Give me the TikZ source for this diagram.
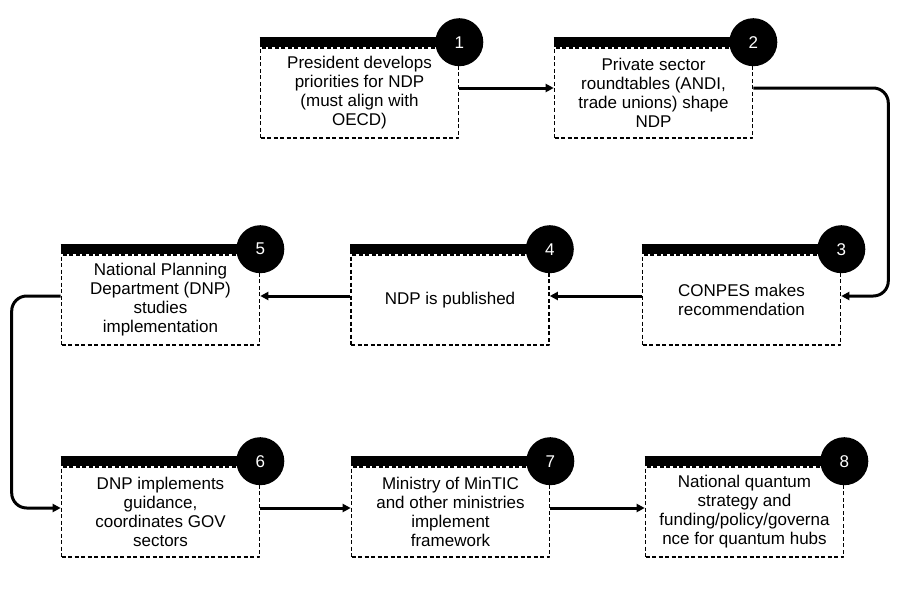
\documentclass[tikz,border=0pt]{standalone}
\usepackage{fontspec}
\setmainfont{Liberation Sans}
\usetikzlibrary{arrows.meta}
\begin{document}
\begin{tikzpicture}[x=1pt,y=-1pt,line join=round,>={Triangle[length=8pt,width=8pt]}]
	\tikzset{every node/.style={font=\fontsize{17}{19}\selectfont},
		stepbox/.style={draw,dashed,line width=1.6pt,dash pattern=on 4pt off 2.5pt,minimum width=198pt,minimum height=90pt,inner sep=0pt,align=center},
		badge/.style={circle,fill=black,text=white,minimum size=48pt,inner sep=0pt},
		arr/.style={->,line width=3pt}}
	\useasboundingbox (0,0) rectangle (906,589);
	\foreach \n/\x/\y/\txt in {1/359.5/93/{President develops\\priorities for NDP\\(must align with\\OECD)},
		2/653.5/93/{Private sector\\roundtables (ANDI,\\trade unions) shape\\NDP},
		3/741.5/300/{CONPES makes\\recommendation},
		4/450/300/{NDP is published},
		5/160.5/300/{National Planning\\Department (DNP)\\studies\\implementation},
		6/160.5/512/{DNP implements\\guidance,\\coordinates GOV\\sectors},
		7/450.5/512/{Ministry of MinTIC\\and other ministries\\implement\\framework},
		8/744.5/512/{National quantum\\strategy and\\funding/policy/governa\\nce for quantum hubs}}
	{
		\node[stepbox] (b\n) at (\x,\y) {\txt};
		\draw[line width=10pt] ([yshift=5pt]b\n.north west)--([yshift=5pt]b\n.north east);
		\node[badge] (c\n) at ([yshift=5pt]b\n.north east) {\n};
	}
	\draw[arr] ([yshift=5pt]b1.east)--([yshift=5pt]b2.west);
	\draw[arr,rounded corners=15pt] ([yshift=5pt]b2.east) -| ([xshift=47pt,yshift=4pt]b3.east)--([yshift=4pt]b3.east);
	\draw[arr] ([yshift=4pt]b3.west)--([yshift=4pt]b4.east);
	\draw[arr] ([yshift=4pt]b4.west)--([yshift=4pt]b5.east);
	\draw[arr,rounded corners=15pt] ([yshift=4pt]b5.west) -| ([xshift=-49pt,yshift=4pt]b6.west)--([yshift=4pt]b6.west);
	\draw[arr] ([yshift=4pt]b6.east)--([yshift=4pt]b7.west);
	\draw[arr] ([yshift=4pt]b7.east)--([yshift=4pt]b8.west);
\end{tikzpicture}
\end{document}
